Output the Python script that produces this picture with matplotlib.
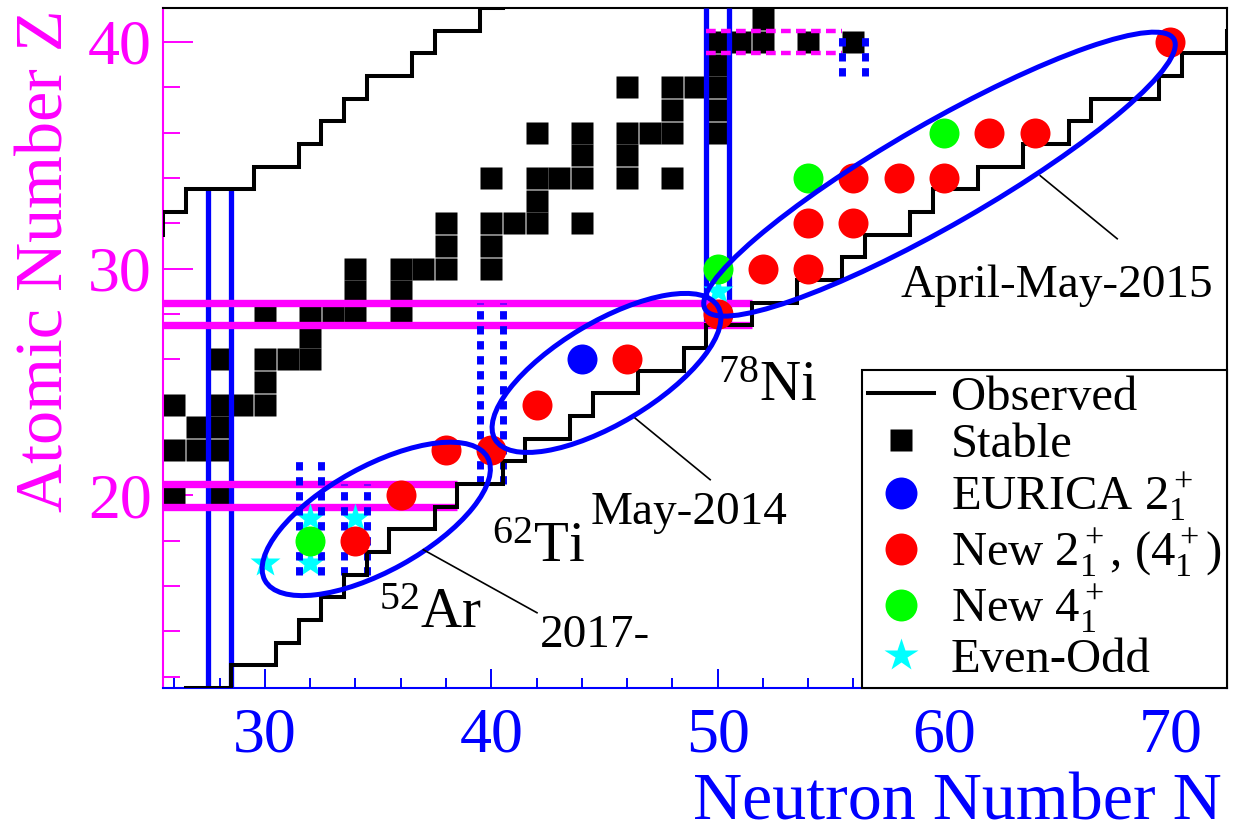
import matplotlib
matplotlib.use("Agg")
import matplotlib.pyplot as plt
from matplotlib.lines import Line2D
from matplotlib.patches import Ellipse
from matplotlib.ticker import MultipleLocator

plt.rcParams['font.family'] = ['Liberation Serif', 'DejaVu Serif']
plt.rcParams['mathtext.fontset'] = 'custom'
plt.rcParams['mathtext.rm'] = 'Liberation Serif'
plt.rcParams['mathtext.it'] = 'Liberation Serif:italic'
plt.rcParams['mathtext.bf'] = 'Liberation Serif:bold'
plt.rcParams['lines.scale_dashes'] = False

BLUE = '#0000ff'
MAGENTA = '#ff00ff'
RED = '#ff0000'
GREEN = '#00ff00'
CYAN = '#00ffff'

# ---- data -------------------------------------------------------------
# stable nuclei (neutron number, proton number)
stable_N = [26, 28,
            26, 27, 28,
            27, 28,
            26, 28, 29, 30,
            30,
            28, 30, 31, 32,
            32,
            30, 32, 33, 34, 36,
            34, 36,
            34, 36, 37, 38, 40,
            38, 40,
            38, 40, 41, 42, 44,
            42,
            40, 42, 43, 44, 46, 48,
            44, 46,
            42, 44, 46, 47, 48, 50,
            48, 50,
            46, 48, 49, 50,
            50,
            50, 51, 52, 54, 56,
            52]
stable_Z = [20, 20,
            22, 22, 22,
            23, 23,
            24, 24, 24, 24,
            25,
            26, 26, 26, 26,
            27,
            28, 28, 28, 28, 28,
            29, 29,
            30, 30, 30, 30, 30,
            31, 31,
            32, 32, 32, 32, 32,
            33,
            34, 34, 34, 34, 34, 34,
            35, 35,
            36, 36, 36, 36, 36, 36,
            37, 37,
            38, 38, 38, 38,
            39,
            40, 40, 40, 40, 40,
            41]

# limits of observed nuclei (cell-edge staircases)
proton_edge_N = [25.5, 25.5, 26.5, 26.5, 29.5, 29.5, 31.5, 31.5, 32.5, 32.5,
                 33.5, 33.5, 34.5, 34.5, 36.5, 36.5, 37.5, 37.5, 39.5, 39.5, 40.5]
proton_edge_Z = [31.5, 32.5, 32.5, 33.5, 33.5, 34.5, 34.5, 35.5, 35.5, 36.5,
                 36.5, 37.5, 37.5, 38.5, 38.5, 39.5, 39.5, 40.5, 40.5, 41.5, 41.5]

neutron_edge_N = [26.5, 28.5, 28.5, 30.5, 30.5, 31.5, 31.5, 32.5, 32.5, 33.5,
                  33.5, 34.5, 34.5, 35.5, 35.5, 37.5, 37.5, 38.5, 38.5, 40.5,
                  40.5, 41.5, 41.5, 43.5, 43.5, 44.5, 44.5, 46.5, 46.5, 48.5,
                  48.5, 49.5, 49.5, 51.5, 51.5, 53.5, 53.5, 55.5, 55.5, 56.5,
                  56.5, 58.5, 58.5, 59.5, 59.5, 61.5, 61.5, 63.5, 63.5, 65.5,
                  65.5, 66.5, 66.5, 69.5, 69.5, 70.5, 70.5, 72.5, 72.5]
neutron_edge_Z = [11.5, 11.5, 12.5, 12.5, 13.5, 13.5, 14.5, 14.5, 15.5, 15.5,
                  16.5, 16.5, 17.5, 17.5, 18.5, 18.5, 19.5, 19.5, 20.5, 20.5,
                  21.5, 21.5, 22.5, 22.5, 23.5, 23.5, 24.5, 24.5, 25.5, 25.5,
                  26.5, 26.5, 27.5, 27.5, 28.5, 28.5, 29.5, 29.5, 30.5, 30.5,
                  31.5, 31.5, 32.5, 32.5, 33.5, 33.5, 34.5, 34.5, 35.5, 35.5,
                  36.5, 36.5, 37.5, 37.5, 38.5, 38.5, 39.5, 39.5, 40.5]

eurica_N = [44]
eurica_Z = [26]

new21_N = [34, 36, 38, 40, 42, 46, 50, 52, 54, 54, 56, 56, 58, 60, 62, 64, 70]
new21_Z = [18, 20, 22, 22, 24, 26, 28, 30, 30, 32, 32, 34, 34, 34, 36, 36, 40]

new41_N = [32, 50, 54, 60]
new41_Z = [18, 30, 34, 36]

evenodd_N = [30, 32, 32, 34, 50]
evenodd_Z = [17, 17, 19, 19, 29]

# magic-number bands: (magic value, start, end) of the bounding lines
magic_Z_bands = [(20, 25.5, 38.5), (28, 25.5, 51.5)]
magic_N_bands = [(28, 11.5, 33.5), (50, 27.5, 41.5)]
# dotted brackets: vertical (N, Z from, Z to) and horizontal (Z, N from, N to)
dotted_N_bands = [(32, 16.5, 21.5), (34, 16.5, 20.5), (40, 20.5, 28.5), (56, 38.5, 40.5)]
dotted_Z_bands = [(40, 49.5, 55.5)]

# campaign regions: centre N, centre Z, full length, full width, tilt (deg)
campaigns = [
    dict(label='2017-', cN=34.92, cZ=18.96, length=11.23, width=4.62, tilt=28.9),
    dict(label='May-2014', cN=45.09, cZ=25.40, length=11.46, width=4.48, tilt=30.8),
    dict(label='April-May-2015', cN=59.80, cZ=34.17, length=23.89, width=4.49, tilt=29.9),
]

# ---- figure -------------------------------------------------------------
fig = plt.figure(figsize=(12.39, 8.34), dpi=100)
ax = fig.add_axes([163 / 1239, 146 / 834, 1064 / 1239, 680 / 834])
ax.set_xlim(25.5, 72.5)
ax.set_ylim(11.5, 41.5)

# stable nuclei
ax.plot(stable_N, stable_Z, ls='none', marker='s', ms=15.2, mfc='black',
        mec='none', zorder=2)

# magic-number bands
for z, n0, n1 in magic_Z_bands:
    for off in (-0.5, 0.5):
        ax.plot([n0, n1], [z + off, z + off], color=MAGENTA, lw=5.3,
                solid_capstyle='butt', zorder=3.1)
for n, z0, z1 in magic_N_bands:
    for off in (-0.5, 0.5):
        ax.plot([n + off, n + off], [z0, z1], color=BLUE, lw=3.8,
                solid_capstyle='butt', zorder=3)

for n, z0, z1 in dotted_N_bands:
    for off in (-0.5, 0.5):
        ax.plot([n + off, n + off], [z0, z1], color=BLUE, lw=5,
                dashes=(6, 4.8), dash_capstyle='butt', zorder=3.5)
for z, n0, n1 in dotted_Z_bands:
    for off in (-0.5, 0.5):
        ax.plot([n0, n1], [z + off, z + off], color=MAGENTA, lw=3.2,
                dashes=(7, 3.8), dash_capstyle='butt', zorder=3.4)

# observed limits
ax.plot(proton_edge_N, proton_edge_Z, color='black', lw=2.9, zorder=4,
        solid_joinstyle='miter')
ax.plot(neutron_edge_N, neutron_edge_Z, color='black', lw=2.9, zorder=4,
        solid_joinstyle='miter')

# spectroscopy results
ax.plot(evenodd_N, evenodd_Z, ls='none', marker='*', ms=22, mfc=CYAN,
        mec='none', zorder=3.3)
ax.plot(eurica_N, eurica_Z, ls='none', marker='o', ms=21.6, mfc=BLUE,
        mec='none', zorder=5)
ax.plot(new21_N, new21_Z, ls='none', marker='o', ms=21.6, mfc=RED,
        mec='none', zorder=5)
ax.plot(new41_N, new41_Z, ls='none', marker='o', ms=21.6, mfc=GREEN,
        mec='none', zorder=5)

# campaign ellipses
for c in campaigns:
    ax.add_patch(Ellipse((c['cN'], c['cZ']), c['length'], c['width'],
                         angle=c['tilt'], fill=False, ec=BLUE, lw=3.6,
                         zorder=6))

# campaign labels and leader lines
ax.text(58.07, 28.77, 'April-May-2015', fontsize=34, ha='left',
        va='baseline', zorder=7)
ax.plot([64.25, 67.65], [34.10, 31.32], color='black', lw=1.2, zorder=7)
ax.text(44.37, 18.74, 'May-2014', fontsize=34, ha='left', va='baseline',
        zorder=7)
ax.plot([46.36, 49.67], [23.40, 20.69], color='black', lw=1.2, zorder=7)
ax.text(42.16, 13.31, '2017-', fontsize=34, ha='left', va='baseline',
        zorder=7)
ax.plot([37.00, 42.02], [17.60, 14.82], color='black', lw=1.2, zorder=7)

# key nuclei
for txt, n, z in [(r'$^{78}$Ni', 50.0, 24.14), (r'$^{62}$Ti', 40.03, 17.07),
                  (r'$^{52}$Ar', 35.02, 14.13)]:
    ax.text(n, z, txt, fontsize=41, ha='left', va='baseline', zorder=7)

# axes styling
for side, col in (('left', MAGENTA), ('bottom', BLUE), ('top', 'black'),
                  ('right', 'black')):
    ax.spines[side].set_color(col)
    ax.spines[side].set_linewidth(1.5)

ax.xaxis.set_major_locator(MultipleLocator(10))
ax.xaxis.set_minor_locator(MultipleLocator(2))
ax.yaxis.set_major_locator(MultipleLocator(10))
ax.yaxis.set_minor_locator(MultipleLocator(2))
ax.tick_params(axis='x', which='both', direction='in', color=BLUE,
               labelcolor=BLUE, width=1.4, top=False)
ax.tick_params(axis='x', which='major', length=13.7, labelsize=46, pad=14)
ax.tick_params(axis='x', which='minor', length=7.2)
ax.tick_params(axis='y', which='both', direction='in', color=MAGENTA,
               labelcolor=MAGENTA, width=1.4, right=False)
ax.tick_params(axis='y', which='major', length=21.6, labelsize=46, pad=8)
ax.tick_params(axis='y', which='minor', length=12)

ax.set_xlabel('Neutron Number N', color=BLUE, fontsize=49)
ax.xaxis.set_label_coords(1222 / 1239, 1 / 834, transform=fig.transFigure)
ax.xaxis.label.set_ha('right')
ax.xaxis.label.set_va('bottom')

ax.set_ylabel('Atomic Number Z', color=MAGENTA, fontsize=49)
ax.yaxis.set_label_coords(16 / 1239, 1 - 10 / 834, transform=fig.transFigure)
ylab = ax.yaxis.label
ylab.set_rotation(90)
ylab.set_rotation_mode('anchor')
ylab.set_ha('right')
ylab.set_va('top')

# legend
handles = [
    Line2D([], [], color='black', lw=2.9),
    Line2D([], [], ls='none', marker='s', ms=16.5, mfc='black', mec='none'),
    Line2D([], [], ls='none', marker='o', ms=23, mfc=BLUE, mec='none'),
    Line2D([], [], ls='none', marker='o', ms=23, mfc=RED, mec='none'),
    Line2D([], [], ls='none', marker='o', ms=23, mfc=GREEN, mec='none'),
    Line2D([], [], ls='none', marker='*', ms=25, mfc=CYAN, mec='none'),
]
labels = ['Observed', 'Stable', r'EURICA 2$_1^+$', r'New 2$_1^+$, (4$_1^+$)',
          r'New 4$_1^+$', 'Even-Odd']
leg = ax.legend(handles, labels, loc='lower right', bbox_to_anchor=(1, 0),
                borderaxespad=0, frameon=True, fancybox=False,
                edgecolor='black', framealpha=1, fontsize=35,
                handlelength=1.35, handletextpad=0.35, labelspacing=0.07,
                borderpad=0.12)
leg.get_frame().set_linewidth(1.5)
leg.set_zorder(10)

fig.savefig('out.png', dpi=100)
